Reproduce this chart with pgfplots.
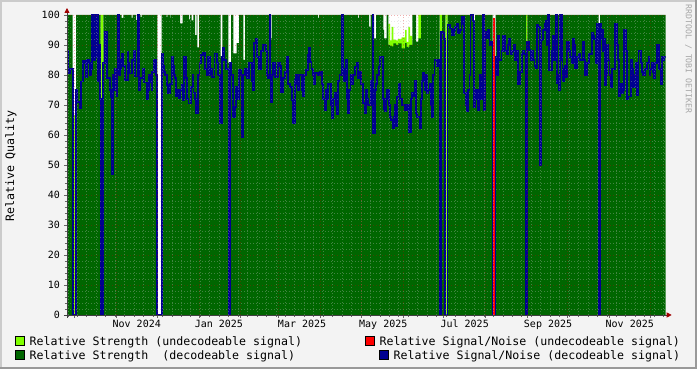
\documentclass[border=0pt]{standalone}
\usepackage{fontspec}
\setmainfont{DejaVu Sans Mono}
\usepackage{pgfplots}
\pgfplotsset{compat=1.18}
\usetikzlibrary{arrows.meta}
\definecolor{bg}{HTML}{F3F3F3}
\definecolor{dgreen}{HTML}{006600}
\definecolor{lgreen}{HTML}{80FF00}
\definecolor{snrblue}{HTML}{000090}
\definecolor{shadeA}{HTML}{CBCBCB}
\definecolor{shadeB}{HTML}{999999}
\definecolor{arrowred}{HTML}{A00000}
\newcommand{\legfont}{\fontsize{11.6}{13}\selectfont}
\newcommand{\tickfont}{\fontsize{10}{12}\selectfont}

\pgfplotstableread{
x y
67 100
72.7 0
76 100
93.3 97.2
95 100
100.7 0
103.3 100
121.7 99
123.3 100
131.7 99
132.7 100
136 98.3
137.3 100
140.7 99.3
141.7 100
157.3 0
161.7 100
166.7 99.3
167.3 100
170 99
170.7 100
180 97.2
182.5 100
189 98.5
190 100
191.7 98.2
193.3 100
195 93.3
196.7 100
197.3 89.2
199 100
220.5 86.1
222.3 100
228.3 84
231 100
233.3 87.2
236.7 90.6
239 100
243.3 85
245 100
269 92.2
271.7 100
318 99
319 100
358 99
359 100
369 96.1
370.7 100
374 92.2
376 100
383.3 95
384 92.2
386.7 100
388.3 90
390 89.7
391.7 89.5
393.3 90.5
396 90
398 90.5
401.7 88.9
405 90.6
406.7 89.4
409.3 90
412.3 100
416 91.1
418.3 92.2
421 100
439.5 85
442 100
445.3 0
447.5 100
473.3 98.3
475 100
492.5 0
495.5 100
526 91
527.3 100
598.5 96.7
600 100
665.7 100
}\strengthdec

\pgfplotstableread{
x y
67 0
72.7 66.7
76 0
100.7 100
103.3 0
388.3 97
390 91.5
391.7 96
393.3 91.8
396 91.5
398 92
401.7 92.5
405 95
406.7 91
408.3 96
410 93
412.3 0
418.3 100
421 0
439.5 100
442 0
445.3 100
447.5 0
492.5 68
495.5 0
526 100
527.3 0
665.7 0
}\strengthundec

\pgfplotstableread{
x y
67 88
68 80.5
70 82
72.7 0
76 75
77 71
80 69
81 77.8
82.7 84.8
85 84
86 79.4
87.3 85
89 84
90 80
91.3 82
92 100
93.5 85
95 100
96 86
97 100
98 78
99 90
99.7 72
100.7 0
103.3 84
104.7 94.4
107 79
110 75
111.3 72.5
112.3 47
113 80
114 75
115 82
116.7 72.8
117.5 100
118.7 80
120 82
121 85
122 87.2
123.3 83
125 78.3
127.7 87.8
128.5 84
129.3 80.5
131.7 85
134 88
135 79.5
137.7 100
138.7 75
140 79
142.5 82.2
144 77.5
146.7 72
148 75
149.3 80
150.7 77.5
151.7 75
152.3 81
154 85
156.3 80
157.3 0
161.7 87.2
163.3 83
164.3 81
165 80
166.7 76.7
168.3 73.9
170 77
171.7 86
173.3 83
174.3 80
175 79
176 73
177 75
179 72.2
180.5 75
181.7 76.7
183.3 71.7
184.3 86
186 79
187.3 72
188.5 70.5
191 76
192.7 80
193.5 74
195 72
195.7 67.2
198.3 80
199.5 84
201 86.7
203 87.5
205 82
206.7 80
208.3 86
210 80
211 82
212.3 79.4
214.5 87.2
216.7 84
218.3 80
220.3 63.9
221.7 86
222.7 88.9
224.3 85
226 82
229 0
229.8 84
231.5 80
232.7 66.1
235 69.4
236 76
237 72
239 81.7
241 80
242.3 59.4
243.3 80
245 82
246.7 79
249 83.9
251.7 78
253.3 75
254.3 90.6
255.5 92
256.7 86
259 82
261 88
263.3 90
265.7 88
267 80
268.3 79
269.5 100
270.5 71
271.7 80
273.3 84
275 79.4
278.3 84
280 83
281 74.4
283.3 79
285 81
286.7 86.1
288.3 77
290 76
291.7 71.7
292.7 63.9
294.7 78.3
295.7 80
296.7 77
298 75
299.3 80
301.7 75
303 73
304 80
306 81.7
308 86.7
309 89
310 84.4
311.5 82
312.7 80
314 77
315 80.6
318.3 80
320 81
321.7 77
323.3 72
324.5 68.3
326 75
327 72
328.3 77
330.7 70
331.7 65.6
333.3 72
334.5 74
336 70
337 67
338.3 78
339.5 80
341.7 100
342.7 80
344 78
345 82.2
346 85
346.7 72
348 67.2
349.3 75
350.5 80
351.7 77
353.3 80
355 82.8
356.7 84
358.3 79
359.5 81
360.7 77
363.3 70.6
364.7 67.2
366 75
367 72
368.3 70
370.7 78
372.5 100
373 60.6
375 75
376 77
377.3 80
378.7 82.8
380 86
382.7 72
384 68.5
385 68
386 72
387.3 75
388.7 70
390 66.1
391.3 65
392.7 62.2
393.8 66
395 70
396.3 63
397.3 72.8
398.7 77
400 72
401.7 70
403.3 70
405 68.3
407 70
409 61.1
411 72
412.3 74
413.3 73
414.7 78
416 67.2
417.3 66
418.3 66
419.7 62.2
421 72
422 78
423.3 80.6
424.5 75
425 78
425.7 80
427 74
428.3 75
429.7 77
431 70
432.3 66.1
433.3 80
434.5 85
435.7 85
437 83
438.3 85
439.7 0
441 94.4
443 94
444.3 92
445.3 0
447.5 96.7
450 95.5
452.3 93.3
454 95
455 96
456.5 97
457.7 94
460 95
461.5 97
462.3 99.5
464.3 74
465.7 70
467 67.8
468.3 75
469.5 80
470.5 100
473.3 98
474.3 69.4
475.5 75
476.7 72
478 68.3
479 75
480 80
481 72
482.5 100
484 68.3
485 94.4
486.5 92.2
488 95
489.5 90
491 91
492.5 0
495.5 86
496.3 80
497.7 93
499 85
500 85
501.5 88
503.3 93
505 88
506.7 87
508 90
509 92.2
510.5 87
511.7 88
513.5 90
515 85
516.7 88
518.3 77
520 81
521.7 87.2
523 88
524 87
526 0
526.8 90.9
529.3 88.3
530.5 85
531.7 88
533.3 85
534.5 83
535.5 82.2
536.7 96.7
538.3 96
540 50
541 91.7
542.5 92
543.3 95
545 97
545.5 98
546.7 90
548.3 100
549.3 81.7
551.7 88
553 93
554 85
555 93
556 100
557 77.2
558.3 80
559.3 75
560 100
561.7 85
562.5 82
563.3 78
564.5 80
565 83
566.3 79.4
567.3 91.1
569 88
570 86
571.5 84
572.7 92
574 90
575 82.2
577.3 86
578.7 87
580 85
582.7 91
584 85
585 80
586.7 84
589.3 87
591.7 94
593 93
594 92
596 84
597.3 97
598.7 0
599.7 97
601 92
601.7 95
603 88
604 92
605 76.7
606 80
607 90
608.3 85
609.5 80
610.5 76.1
611.7 82
615 97.2
617.3 90
618.3 85
619.3 72.8
620.5 77
621.7 73.9
623 75
624 95
626 88
627 72
628.3 72.8
630.7 85
632 82
633.3 76.1
635 80
636 84
637.3 73.3
638.5 88
640.7 84
642 81
643.3 80
645 82
646.7 84
648.5 86
649.5 80
650 82
651.5 84
652.7 81
654 79
655 84
657.3 90
659.3 82
660.5 77
661.7 86.1
663 85
664 86
665.7 86
}\snrdec

\begin{document}
\begin{tikzpicture}[x=1pt,y=1pt]
\fill[bg] (0,0) rectangle (697,369);
\fill[shadeA] (0,367) rectangle (697,369);
\fill[shadeA] (0,0) rectangle (2,369);
\fill[shadeB] (0,0) rectangle (697,2);
\fill[shadeB] (695,0) rectangle (697,369);

\begin{axis}[
  at={(67pt,54pt)}, anchor=south west,
  scale only axis, width=598.7pt, height=300pt,
  xmin=-5.63, xmax=437.6, ymin=0, ymax=100,
  x filter/.expression={(x-74.6)/1.3507},
  axis lines=left, axis on top,
  axis background/.style={fill=white},
  axis line style={black!75, line width=0.8pt},
  x axis line style={-{Triangle[length=5pt,width=5pt,color=arrowred]}, shorten >=-6pt, shorten <=-3pt},
  y axis line style={-{Triangle[length=5pt,width=5pt,color=arrowred]}, shorten >=-7pt, shorten <=-3pt},
  xtick={0,31,61,92,123,151,182,212,243,273,304,335,365,396,426},
  xticklabels={},
  minor xtick={-5,2,...,436},
  extra x ticks={46,106.8,168.4,228.5,288.8,350.5,411},
  extra x tick labels={Nov 2024,Jan 2025,Mar 2025,May 2025,Jul 2025,Sep 2025,Nov 2025},
  extra x tick style={grid=none, major tick length=0pt},
  ytick={0,10,...,100},
  minor y tick num=4,
  grid=both,
  major grid style={red!80!black, opacity=0.3, line width=0.6pt, dash pattern=on 1pt off 2pt},
  minor grid style={gray!50, opacity=0.35, line width=0.6pt, dash pattern=on 1pt off 2pt},
  tick align=outside,
  major tick length=3pt, minor tick length=2pt,
  tick style={black!60, line width=0.6pt},
  /pgf/number format/assume math mode=true,
  xticklabel style={font=\tickfont, anchor=north, inner sep=0pt, yshift=-5pt},
  yticklabel style={font=\tickfont, anchor=east, inner sep=0pt, xshift=-4pt},
]
\addplot[fill=lgreen, draw=none, const plot] table {\strengthundec} \closedcycle;
\addplot[fill=dgreen, draw=none, const plot] table {\strengthdec} \closedcycle;
\addplot[snrblue, line width=1.7pt, const plot, mark=none] table {\snrdec};
\addplot[red, line width=2.2pt, mark=none] coordinates {(494,0) (494,99)};
\end{axis}

\node[rotate=90, font=\legfont, inner sep=0pt] at (11,203) {Relative Quality};
\node[rotate=-90, font=\fontsize{8.2}{9}\selectfont, text=black!35, inner sep=0pt] at (688.5,310) {RRDTOOL / TOBI OETIKER};

\fill[lgreen] (15,23.5) rectangle (24,32.5);
\draw[black, line width=0.6pt] (15,23.5) rectangle (24,32.5);
\node[anchor=base west, inner sep=0pt, font=\legfont] at (29.5,23.5) {Relative Strength (undecodeable signal)};
\fill[red] (365,23.5) rectangle (374,32.5);
\draw[black, line width=0.6pt] (365,23.5) rectangle (374,32.5);
\node[anchor=base west, inner sep=0pt, font=\legfont] at (379.5,23.5) {Relative Signal/Noise (undecodeable signal)};
\fill[dgreen] (15,9.5) rectangle (24,18.5);
\draw[black, line width=0.6pt] (15,9.5) rectangle (24,18.5);
\node[anchor=base west, inner sep=0pt, font=\legfont] at (29.5,9.5) {Relative Strength\ \ (decodeable signal)};
\fill[snrblue] (379,9.5) rectangle (388,18.5);
\draw[black, line width=0.6pt] (379,9.5) rectangle (388,18.5);
\node[anchor=base west, inner sep=0pt, font=\legfont] at (393.5,9.5) {Relative Signal/Noise (decodeable signal)};

\pgfresetboundingbox
\path[use as bounding box] (0,0) rectangle (697,369);
\end{tikzpicture}
\end{document}
